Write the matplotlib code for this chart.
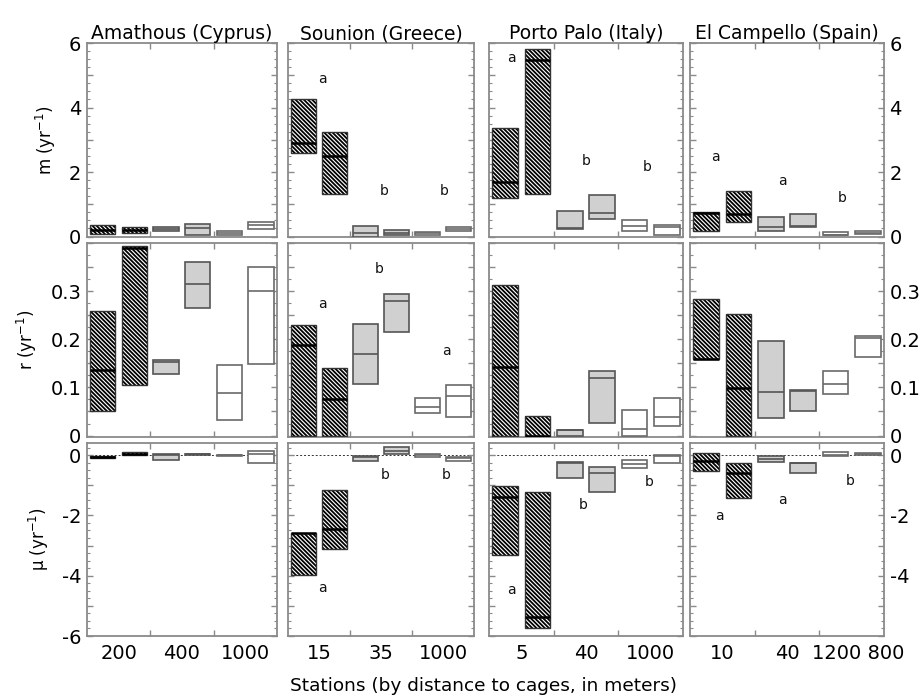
import matplotlib
matplotlib.use("Agg")
import matplotlib.pyplot as plt
from matplotlib.patches import Rectangle
from matplotlib.ticker import MultipleLocator

plt.rcParams['font.family'] = ['DejaVu Sans']
plt.rcParams['hatch.linewidth'] = 1.3

sites = ["Amathous (Cyprus)", "Sounion (Greece)", "Porto Palo (Italy)", "El Campello (Spain)"]
station_labels = [["200", "400", "1000"], ["15", "35", "1000"], ["5", "40", "1000"], ["10", "40", "1200 800"]]
row_labels = ["m (yr$^{-1}$)", "r (yr$^{-1}$)", "\u03bc (yr$^{-1}$)"]

# box data: [low, median, high] for the 6 stations of each site
m_low = [[0.08, 0.10, 0.16, 0.04, 0.05, 0.23],
         [2.58, 1.32, 0.00, 0.04, 0.06, 0.16],
         [1.18, 1.31, 0.24, 0.53, 0.16, 0.04],
         [0.16, 0.46, 0.16, 0.29, 0.04, 0.08]]
m_med = [[0.20, 0.20, 0.22, 0.25, 0.10, 0.35],
         [2.89, 2.50, 0.10, 0.10, 0.10, 0.22],
         [1.70, 5.47, 0.25, 0.73, 0.34, 0.28],
         [0.73, 0.70, 0.28, 0.32, 0.05, 0.10]]
m_high = [[0.36, 0.30, 0.30, 0.39, 0.16, 0.46],
          [4.25, 3.25, 0.33, 0.20, 0.14, 0.30],
          [3.35, 5.80, 0.78, 1.28, 0.51, 0.35],
          [0.76, 1.41, 0.60, 0.70, 0.13, 0.16]]

r_low = [[0.051, 0.104, 0.128, 0.266, 0.033, 0.148],
         [0.000, 0.000, 0.108, 0.216, 0.046, 0.039],
         [0.000, 0.000, 0.000, 0.026, 0.000, 0.020],
         [0.159, 0.000, 0.037, 0.050, 0.086, 0.163]]
r_med = [[0.137, 0.390, 0.152, 0.314, 0.089, 0.300],
         [0.188, 0.076, 0.170, 0.280, 0.059, 0.083],
         [0.143, 0.000, 0.012, 0.119, 0.014, 0.038],
         [0.160, 0.099, 0.091, 0.093, 0.107, 0.203]]
r_high = [[0.259, 0.393, 0.157, 0.360, 0.146, 0.350],
          [0.230, 0.141, 0.231, 0.295, 0.079, 0.104],
          [0.312, 0.040, 0.012, 0.134, 0.053, 0.078],
          [0.284, 0.252, 0.196, 0.094, 0.135, 0.207]]

mu_low = [[-0.10, 0.00, -0.15, -0.01, -0.03, -0.27],
          [-3.97, -3.13, -0.20, 0.02, -0.06, -0.20],
          [-3.32, -5.74, -0.77, -1.23, -0.43, -0.27],
          [-0.54, -1.42, -0.22, -0.61, -0.02, 0.00]]
mu_med = [[-0.05, 0.05, 0.00, 0.02, 0.00, 0.04],
          [-2.60, -2.46, -0.05, 0.13, 0.00, -0.10],
          [-1.39, -5.38, -0.25, -0.59, -0.28, -0.03],
          [-0.20, -0.60, -0.14, -0.25, 0.00, 0.03]]
mu_high = [[-0.02, 0.10, 0.02, 0.05, 0.01, 0.13],
           [-2.58, -1.17, -0.03, 0.27, 0.04, -0.07],
           [-1.03, -1.24, -0.22, -0.41, -0.16, -0.01],
           [0.08, -0.25, -0.03, -0.25, 0.09, 0.07]]

# significance letters: (x, y, letter)
m_letters = [[],
             [(1.1, 4.87, "a"), (3.1, 1.42, "b"), (5.05, 1.42, "b")],
             [(0.7, 5.52, "a"), (3.0, 2.35, "b"), (4.9, 2.16, "b")],
             [(0.8, 2.47, "a"), (2.85, 1.73, "a"), (4.7, 1.18, "b")]]
r_letters = [[],
             [(1.1, 0.273, "a"), (2.95, 0.345, "b"), (5.1, 0.176, "a")],
             [],
             []]
mu_letters = [[],
              [(1.1, -4.41, "a"), (3.15, -0.65, "b"), (5.1, -0.65, "b")],
              [(0.7, -4.49, "a"), (2.9, -1.67, "b"), (4.95, -0.88, "b")],
              [(0.9, -2.01, "a"), (2.85, -1.48, "a"), (4.95, -0.85, "b")]]

rows = [(m_low, m_med, m_high, m_letters, (0, 6),
         [0, 2, 4, 6], ["0", "2", "4", "6"], [0, 2, 4, 6], ["0", "2", "4", "6"], 1.0, 0.25),
        (r_low, r_med, r_high, r_letters, (-0.003, 0.4),
         [0, 0.1, 0.2, 0.3], ["0", "0.1", "0.2", "0.3"], [0, 0.1, 0.2, 0.3], ["0", "0.1", "0.2", "0.3"], 0.05, 0.025),
        (mu_low, mu_med, mu_high, mu_letters, (-6, 0.4),
         [0, -2, -4, -6], ["0", "-2", "-4", "-6"], [0, -2, -4], ["0", "-2", "-4"], 1.0, 0.25)]

W, H = 920, 698
fig = plt.figure(figsize=(W / 100, H / 100), dpi=100)

col_px = [(87, 277), (288, 474), (489, 683), (690, 884)]
row_px = [(43, 236.5), (243, 437), (443, 636)]

frame_col = "#8a8a8a"
styles = ["hatch", "hatch", "gray", "gray", "white", "white"]

for ri, (lo, me, hi, letters, ylim, ytL, ytlL, ytR, ytlR, ymaj, ymin) in enumerate(rows):
    for ci in range(4):
        x0, x1 = col_px[ci]
        yt0, yb0 = row_px[ri]
        ax = fig.add_axes([x0 / W, 1 - yb0 / H, (x1 - x0) / W, (yb0 - yt0) / H])
        ax.set_xlim(0, 6)
        ax.set_ylim(*ylim)
        for s in ax.spines.values():
            s.set_color(frame_col)
            s.set_linewidth(1.3)
        if ri == 2:
            ax.axhline(0, color="#333333", lw=0.7, ls=(0, (2, 2)), zorder=1)
        for k in range(6):
            l, md, h = lo[ci][k], me[ci][k], hi[ci][k]
            xl = k + 0.1
            bw = 0.8
            st = styles[k]
            if st == "hatch":
                ax.add_patch(Rectangle((xl, l), bw, h - l, facecolor="white",
                                       edgecolor="black", hatch="\\" * 8, lw=0, zorder=2))
                ax.add_patch(Rectangle((xl, l), bw, h - l, facecolor="none",
                                       edgecolor="#333333", lw=1.0, zorder=3))
                ax.hlines(md, xl, xl + bw, color="black", lw=1.8, zorder=4)
            else:
                fc = "#d0d0d0" if st == "gray" else "white"
                ec = "#555555" if st == "gray" else "#6a6a6a"
                ax.add_patch(Rectangle((xl, l), bw, h - l, facecolor=fc,
                                       edgecolor=ec, lw=1.2, zorder=3))
                ax.hlines(md, xl, xl + bw, color=ec, lw=1.2, zorder=4)
        for (lx, ly, lt) in letters[ci]:
            ax.text(lx, ly, lt, fontsize=10, ha="center", va="center", color="#111111")
        # x ticks
        ax.set_xticks([2, 4])
        ax.set_xticklabels([])
        ax.tick_params(axis="x", which="major", direction="in", length=4, top=True, bottom=True,
                       color=frame_col, width=1)
        xpos = [1, 3, 5.2] if ci == 3 else [1, 3, 5]
        ax.set_xticks(xpos, minor=True)
        if ri == 2:
            ax.set_xticklabels(station_labels[ci], minor=True, fontsize=14)
        else:
            ax.set_xticklabels([], minor=True)
        ax.tick_params(axis="x", which="minor", length=0, pad=6)
        # y ticks
        ax.yaxis.set_major_locator(MultipleLocator(ymaj))
        ax.yaxis.set_minor_locator(MultipleLocator(ymin))
        ax.tick_params(axis="y", which="major", direction="in", length=4, left=True, right=True,
                       color=frame_col, width=1)
        ax.tick_params(axis="y", which="minor", direction="in", length=2, left=True, right=True,
                       color=frame_col, width=0.8)
        ax.tick_params(axis="y", labelleft=False, labelright=False)
        if ci == 0 or ci == 3:
            side = "left" if ci == 0 else "right"
            sec = ax.secondary_yaxis(side)
            sec.set_yticks(ytL if ci == 0 else ytR)
            sec.set_yticklabels(ytlL if ci == 0 else ytlR, fontsize=14)
            sec.tick_params(length=0, pad=4)
            sec.spines[side].set_visible(False)
            if ci == 0:
                sec.set_ylabel(row_labels[ri], fontsize=12, labelpad=8)
        if ri == 0:
            ax.set_title(sites[ci], fontsize=13.5, pad=2)

fig.text(484 / W, 1 - 686 / H, "Stations (by distance to cages, in meters)", ha="center", va="center", fontsize=13.3)

fig.savefig("out.png", dpi=100)
